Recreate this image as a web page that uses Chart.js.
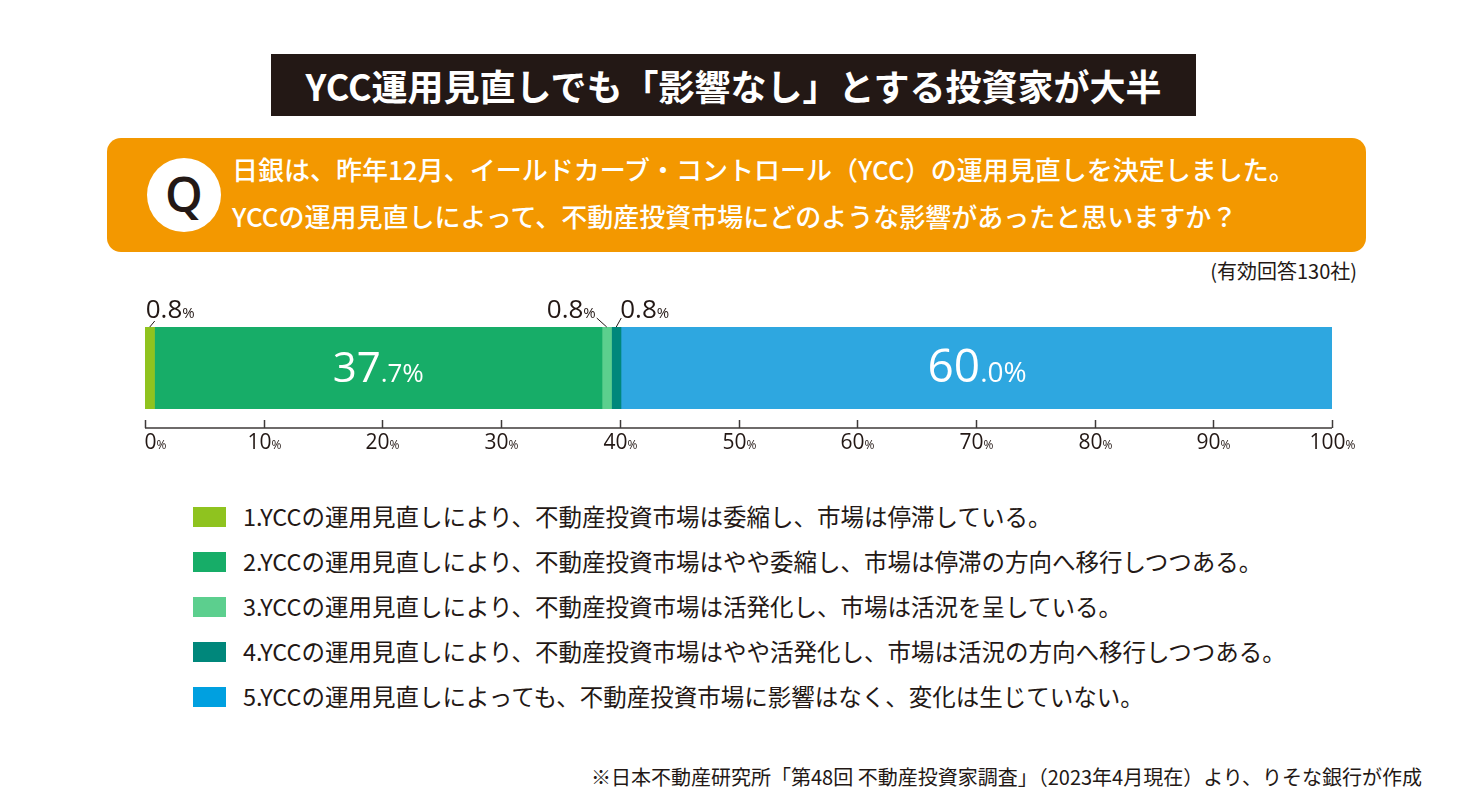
<!DOCTYPE html>
<html lang="ja">
<head>
<meta charset="utf-8">
<script src="https://cdn.jsdelivr.net/npm/chart.js@4/dist/chart.umd.min.js"></script>
<style>
  html,body{margin:0;padding:0;background:#fff;}
  #wrap{position:relative;width:1468px;height:800px;background:#fff;overflow:hidden;
        font-family:"Noto Sans CJK JP","Noto Sans",sans-serif;color:#231815;}
  #title{position:absolute;left:271px;top:54px;width:925px;height:62px;background:#231815;color:#fff;
         font-weight:700;font-size:36px;line-height:62px;text-align:center;}
  #qbox{position:absolute;left:107px;top:138px;width:1259px;height:114px;border-radius:14px;background:#f39800;}
  #qcircle{position:absolute;left:40px;top:20px;width:74px;height:74px;border-radius:50%;background:#fff;
           color:#231815;font-family:"Open Sans","Liberation Sans",sans-serif;font-weight:600;font-size:48px;line-height:72px;text-align:center;}
  .qline{position:absolute;left:125px;color:#fff;font-size:26px;font-weight:500;white-space:nowrap;}
  #n{position:absolute;right:111px;top:256px;font-size:20px;white-space:nowrap;}
  #chartCanvas{position:absolute;left:0;top:280px;}
  .lg{position:absolute;left:193px;height:20px;width:33px;}
  .lt{position:absolute;left:243px;font-size:23.5px;white-space:nowrap;line-height:30px;}
  #note{position:absolute;right:46px;top:762px;font-size:20px;white-space:nowrap;}
</style>
</head>
<body>
<div id="wrap">
  <div id="title"></div>
  <div id="qbox">
    <div id="qcircle">Q</div>
    <div class="qline" id="q1" style="top:12px"></div>
    <div class="qline" id="q2" style="top:59px"></div>
  </div>
  <div id="n"></div>
  <canvas id="chartCanvas" width="1468" height="200"></canvas>
  <div id="legend"></div>
  <div id="note"></div>
</div>
<script>
// ---- data ----
const titleText = "YCC運用見直しでも「影響なし」とする投資家が大半";
const questionLines = [
  "日銀は、昨年12月、イールドカーブ・コントロール（YCC）の運用見直しを決定しました。",
  "YCCの運用見直しによって、不動産投資市場にどのような影響があったと思いますか？"
];
const sampleNote = "(有効回答130社)";
const sourceNote = "※日本不動産研究所「第48回 不動産投資家調査」（2023年4月現在）より、りそな銀行が作成";
const categories = ["回答"];
const seriesLabels = [
  "1.YCCの運用見直しにより、不動産投資市場は委縮し、市場は停滞している。",
  "2.YCCの運用見直しにより、不動産投資市場はやや委縮し、市場は停滞の方向へ移行しつつある。",
  "3.YCCの運用見直しにより、不動産投資市場は活発化し、市場は活況を呈している。",
  "4.YCCの運用見直しにより、不動産投資市場はやや活発化し、市場は活況の方向へ移行しつつある。",
  "5.YCCの運用見直しによっても、不動産投資市場に影響はなく、変化は生じていない。"
];
const seriesValues = [0.8, 37.7, 0.8, 0.8, 60.0];
const seriesColors = ["#8fc31f", "#17ad68", "#5ccf8e", "#00877b", "#2ea7e0"];
const legendColors = ["#8fc31f", "#17ad68", "#5ccf8e", "#00877b", "#00a0e0"];
const tickValues = [0, 10, 20, 30, 40, 50, 60, 70, 80, 90, 100];

// ---- text parts ----
document.getElementById('title').textContent = titleText;
document.getElementById('q1').textContent = questionLines[0];
document.getElementById('q2').textContent = questionLines[1];
document.getElementById('n').textContent = sampleNote;
document.getElementById('note').textContent = sourceNote;
const legendRowCenters = [517, 562, 607, 652, 697];
const lg = document.getElementById('legend');
seriesLabels.forEach((t, i) => {
  const sq = document.createElement('div');
  sq.className = 'lg';
  sq.style.top = (legendRowCenters[i] - 10) + 'px';
  sq.style.background = legendColors[i];
  lg.appendChild(sq);
  const tx = document.createElement('div');
  tx.className = 'lt';
  tx.style.top = (legendRowCenters[i] - 16) + 'px';
  tx.textContent = t;
  lg.appendChild(tx);
});

// ---- chart ----
const NUMFONT = '"Liberation Sans Narrow","Open Sans","Liberation Sans",sans-serif';
function drawSplit(ctx, parts, x, baseline, align, color) {
  let total = 0;
  const widths = parts.map(([t, s]) => { ctx.font = s + 'px ' + NUMFONT; const w = ctx.measureText(t).width; total += w; return w; });
  let sx = align === 'left' ? x : align === 'right' ? x - total : x - total / 2;
  ctx.fillStyle = color;
  ctx.textAlign = 'left';
  ctx.textBaseline = 'alphabetic';
  parts.forEach(([t, s], k) => { ctx.font = s + 'px ' + NUMFONT; ctx.fillText(t, sx, baseline); sx += widths[k]; });
}

const smallPlacement = {
  0: { lx: 5, ly: -6, align: 'left', tx: -4 },
  2: { lx: -10, ly: -9, align: 'right', tx: -11 },
  3: { lx: 5, ly: -9, align: 'left', tx: 4 }
};

const labelsPlugin = {
  id: 'labelsPlugin',
  afterDatasetsDraw(chart) {
    const ctx = chart.ctx;
    ctx.save();
    chart.data.datasets.forEach((ds, i) => {
      const el = chart.getDatasetMeta(i).data[0];
      const v = ds.data[0];
      const l = Math.min(el.x, el.base), r = Math.max(el.x, el.base);
      const cx = (l + r) / 2;
      const top = el.y - el.height / 2;
      const str = v.toFixed(1);
      if (v >= 5) {
        const [ip, dp] = str.split('.');
        const big = v >= 50 ? 46 : 42, sm = v >= 50 ? 28 : 26;
        drawSplit(ctx, [[ip, big], ['.' + dp + '%', sm]], cx, el.y + 14, 'center', '#ffffff');
      } else {
        const p = smallPlacement[i] || { lx: 5, ly: -9, align: 'left', tx: 4 };
        ctx.strokeStyle = '#231815';
        ctx.lineWidth = 1;
        ctx.beginPath();
        ctx.moveTo(cx, top);
        ctx.lineTo(cx + p.lx, top + p.ly);
        ctx.stroke();
        drawSplit(ctx, [[str, 26], ['%', 15]], cx + p.tx, top - 9, p.align, '#231815');
      }
    });
    // axis
    const xs = chart.scales.x;
    const axisY = 148;
    ctx.strokeStyle = '#3e3a39';
    ctx.lineWidth = 1.5;
    ctx.beginPath();
    ctx.moveTo(xs.getPixelForValue(0), axisY);
    ctx.lineTo(xs.getPixelForValue(100), axisY);
    ctx.stroke();
    tickValues.forEach(t => {
      const px = Math.round(xs.getPixelForValue(t)) + 0.5;
      ctx.beginPath();
      ctx.moveTo(px, axisY - 8);
      ctx.lineTo(px, axisY);
      ctx.stroke();
      drawSplit(ctx, [[String(t), 21], ['%', 12]], t === 0 ? px - 1 : px, 169, t === 0 ? 'left' : 'center', '#231815');
    });
    ctx.restore();
  }
};

new Chart(document.getElementById('chartCanvas'), {
  type: 'bar',
  data: {
    labels: categories,
    datasets: seriesValues.map((v, i) => ({
      label: seriesLabels[i],
      data: [v],
      backgroundColor: seriesColors[i],
      borderWidth: 0,
      barPercentage: 1,
      categoryPercentage: 1
    }))
  },
  options: {
    indexAxis: 'y',
    responsive: false,
    devicePixelRatio: 1,
    animation: false,
    layout: { padding: { left: 145, right: 136, top: 47, bottom: 71 } },
    scales: {
      x: { stacked: true, min: 0, max: 100, display: false },
      y: { stacked: true, display: false }
    },
    plugins: { legend: { display: false }, tooltip: { enabled: false } }
  },
  plugins: [labelsPlugin]
});
</script>
</body>
</html>
